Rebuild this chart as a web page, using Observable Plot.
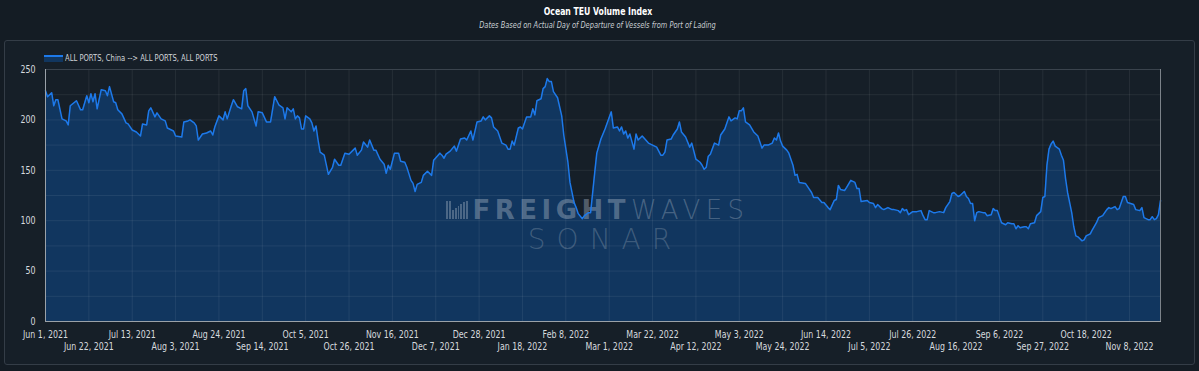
<!DOCTYPE html>
<html>
<head>
<meta charset="utf-8">
<script src="https://cdn.jsdelivr.net/npm/d3@7"></script>
<script src="https://cdn.jsdelivr.net/npm/@observablehq/plot@0.6"></script>
<style>
  html, body { margin: 0; padding: 0; background: #141c24; }
  #wrap { position: relative; width: 1199px; height: 371px; overflow: hidden; background: #141c24;
          font-family: 'Liberation Sans Narrow', 'DejaVu Sans Condensed', Roboto, sans-serif; }
  #panel { position: absolute; left: 4px; top: 40px; width: 1189px; height: 323px;
           border: 1px solid #343d47; border-radius: 3px; background: #161f28; }
  #title { position: absolute; left: 0; width: 1196px; top: 6px; text-align: center;
           font-size: 10px; line-height: 12px; font-weight: bold; color: #ffffff;
           transform: scaleX(0.86); transform-origin: 598px 0; }
  #subtitle { position: absolute; left: 0; width: 1196px; top: 20px; text-align: center;
              font-size: 8.5px; line-height: 10px; font-style: italic; color: #c9ced3;
              transform: scaleX(0.87); transform-origin: 594px 0; }
  #legend { position: absolute; left: 44px; top: 53px; height: 10px; font-size: 8.5px; line-height: 10px; color: #d0d4d8; }
  #legend .sw { position: absolute; left: 0; top: 2px; width: 19px; height: 5px; background: #11365f; border-top: 2px solid #1d79ea; }
  #legend .lb { position: absolute; left: 21px; top: 0; white-space: nowrap; transform: scaleX(0.89); transform-origin: 0 0; }
  #chart { position: absolute; left: 0; top: 0; }
  #icon { position: absolute; left: 446px; top: 201px; width: 22px; height: 18px; display: flex; align-items: flex-end; gap: 1px; opacity: 0.38; }
  #icon span { display: block; width: 2px; background: #aab6c6; }
</style>
</head>
<body>
<div id="wrap">
  <div id="panel"></div>
  <div id="title">Ocean TEU Volume Index</div>
  <div id="subtitle">Dates Based on Actual Day of Departure of Vessels from Port of Lading</div>
  <div id="legend"><div class="sw"></div><div class="lb" id="legendLabel"></div></div>
  <div id="chart"></div>
  <div id="icon"><span style="height:18px"></span><span style="height:18px"></span><span style="height:9px"></span><span style="height:11px"></span><span style="height:13px"></span><span style="height:15px"></span><span style="height:17px"></span><span style="height:18px"></span></div>
</div>
<script>
// ---- data ----
const seriesName = "ALL PORTS, China --> ALL PORTS, ALL PORTS";
const startDate = "Jun 1, 2021";
const endDate = "Nov 23, 2022";
// day offsets from Jun 1, 2021
const days = [
  0,1,3,4,5,6,8,10,11,12,15,17,18,20,21,22,23,24,25,27,29,30,31,33,34,35,37,39,40,42,44,46,47,49,50,51,53,54,56,58,59,62,63,66,67,69,70,72,73,74,76,78,80,81,82,84,86,87,88,90,91,93,95,96,97,98,100,102,103,105,
  107,109,111,113,115,116,117,119,120,121,122,123,124,125,126,128,129,130,131,132,133,135,137,139,140,142,143,145,147,150,151,153,154,156,157,159,160,162,164,165,166,167,169,171,172,174,175,177,178,179,180,182,183,185,187,188,191,192,193,194,196,198,199,201,203,204,206,207,209,211,212,213,
  215,216,217,219,221,223,224,225,226,227,229,230,231,233,235,236,237,238,240,241,242,243,244,245,246,248,250,251,253,254,256,257,258,260,261,263,264,265,266,267,269,271,274,275,277,278,279,280,281,282,283,285,286,287,289,292,294,296,298,299,300,301,303,304,306,307,308,310,312,313,315,317,318,319,320,
  321,322,324,326,327,329,331,332,334,335,336,337,338,339,341,343,345,347,348,350,352,353,354,355,356,357,359,360,362,363,364,365,368,369,371,372,374,376,377,379,380,382,383,384,385,387,388,390,392,393,394,395,398,399,401,402,403,405,406,408,410,411,413,414,415,416,417,418,420,422,
  424,425,426,427,428,430,431,433,435,436,438,439,440,442,443,445,446,447,448,449,450,451,452,454,455,456,458,459,460,461,463,465,466,468,469,470,471,472,474,475,476,477,479,480,482,483,484,485,486,487,488,489,491,492,493,494,495,497,498,499,500,502,503,504,506,507,509,510,512,514,515,516,518,519,520,522,523,524,527,528,530,531,532,534,535,536,537,538,539,540
];
const teu = [
  229,223,227,214,220,220,201,199,195,214,219,210,210,224,217,226,218,226,211,230,229,224,233,218,217,210,206,197,196,190,188,184,196,195,209,212,203,207,201,199,192,189,184,183,198,199,200,197,194,180,186,187,189,185,193,204,200,208,201,214,220,213,211,229,231,214,208,194,208,207,
  198,198,223,215,212,201,212,208,211,201,204,202,191,191,204,201,197,189,194,180,168,165,146,153,161,155,155,167,166,172,165,170,178,173,180,170,170,161,156,147,155,151,167,167,159,158,153,140,137,129,136,138,145,149,145,160,167,165,162,166,169,174,169,181,182,180,189,180,198,199,203,200,
  204,202,193,189,177,175,171,171,179,175,192,193,191,203,203,211,205,219,221,231,233,241,238,238,228,222,204,185,158,138,118,113,107,102,105,108,108,128,148,167,181,191,208,192,193,189,193,186,189,182,186,171,186,180,184,177,175,173,165,165,168,180,181,185,191,198,188,183,173,177,161,158,155,151,153,
  164,166,177,175,185,191,203,199,202,201,209,209,212,198,195,188,184,172,175,175,177,182,180,187,179,174,170,167,155,145,146,138,137,134,128,123,123,118,118,113,111,120,121,135,131,130,133,140,138,132,132,119,120,118,117,113,116,112,111,113,111,111,110,108,112,110,111,106,109,109,
  110,105,101,101,110,108,108,109,108,113,119,127,128,124,125,129,124,122,117,117,100,108,109,108,108,105,106,112,110,110,98,96,98,97,97,92,95,93,94,94,92,97,98,105,109,123,124,155,171,176,179,174,171,165,160,142,128,108,94,85,84,80,81,85,87,91,98,103,105,111,113,112,114,111,112,124,124,118,116,111,110,113,103,101,101,104,101,102,106,120
];
const xTickLabels = [
  "Jun 1, 2021","Jun 22, 2021","Jul 13, 2021","Aug 3, 2021","Aug 24, 2021","Sep 14, 2021","Oct 5, 2021",
  "Oct 26, 2021","Nov 16, 2021","Dec 7, 2021","Dec 28, 2021","Jan 18, 2022","Feb 8, 2022","Mar 1, 2022",
  "Mar 22, 2022","Apr 12, 2022","May 3, 2022","May 24, 2022","Jun 14, 2022","Jul 5, 2022","Jul 26, 2022",
  "Aug 16, 2022","Sep 6, 2022","Sep 27, 2022","Oct 18, 2022","Nov 8, 2022"
];
const yTicks = [0, 50, 100, 150, 200, 250];
const yGrid = [0, 25, 50, 75, 100, 125, 150, 175, 200, 225, 250];
const watermark = ["FREIGHT", "WAVES", "SONAR"];

// ---- build ----
const parse = d3.utcParse("%b %d, %Y");
const fmt = d3.utcFormat("%b %-d, %Y");
const t0 = parse(startDate);
const data = days.map((d, i) => ({date: d3.utcDay.offset(t0, d), value: teu[i]}));
const tickDates = xTickLabels.map(parse);
const row1 = tickDates.filter((d, i) => i % 2 === 0);
const row2 = tickDates.filter((d, i) => i % 2 === 1);

document.getElementById("legendLabel").textContent = seriesName;

const lineColor = "#1d79ea";
const fillColor = "#11365f";
const wmFill = "#aab6c6";
const wmFont = "'DejaVu Sans', sans-serif";

const chart = Plot.plot({
  width: 1199,
  height: 371,
  marginLeft: 45,
  marginRight: 39,
  marginTop: 69,
  marginBottom: 50,
  style: {background: "transparent", color: "#d6dadf",
          fontFamily: "'Liberation Sans Narrow', 'DejaVu Sans Condensed', Roboto, sans-serif", fontSize: "10.2px"},
  x: {type: "utc", domain: [t0, parse(endDate)], label: null, axis: null},
  y: {domain: [0, 250], label: null, axis: null},
  marks: [
    Plot.areaY(data, {x: "date", y: "value", fill: fillColor, curve: "linear"}),
    Plot.text([watermark[0]], {text: d => d, frameAnchor: "middle", textAnchor: "end", dx: 27, dy: 15,
      fontSize: 26, fontWeight: "bold", fontFamily: wmFont, fill: wmFill, fillOpacity: 0.42}),
    Plot.text([watermark[1]], {text: d => d, frameAnchor: "middle", textAnchor: "start", dx: 28, dy: 15,
      fontSize: 26, fontWeight: 200, fontFamily: wmFont, fill: wmFill, fillOpacity: 0.36}),
    Plot.text([watermark[2]], {text: d => d, frameAnchor: "middle", textAnchor: "middle", dx: 2, dy: 45,
      fontSize: 28, fontWeight: 200, fontFamily: wmFont, fill: wmFill, fillOpacity: 0.3}),
    Plot.gridY(yGrid, {stroke: "#ffffff", strokeOpacity: 0.07}),
    Plot.gridX(tickDates, {stroke: "#ffffff", strokeOpacity: 0.07}),
    Plot.frame({stroke: "#3a434d"}),
    Plot.lineY(data, {x: "date", y: "value", stroke: lineColor, strokeWidth: 1.5}),
    Plot.frame({anchor: "right", stroke: "#7c838a"}),
    Plot.frame({anchor: "bottom", stroke: "#9aa1a8"}),
    Plot.frame({anchor: "left", stroke: "#9aa1a8"}),
    Plot.axisY(yTicks, {tickSize: 0, tickPadding: 10, label: null}),
    Plot.axisX(row1, {tickSize: 0, tickPadding: 9, tickFormat: fmt, label: null}),
    Plot.axisX(row2, {tickSize: 0, tickPadding: 21, tickFormat: fmt, label: null})
  ]
});
document.getElementById("chart").appendChild(chart);
const svg = d3.select(chart);
const spacing = {FREIGHT: 4.5, WAVES: 5.5, SONAR: 11};
svg.selectAll("text").each(function() {
  const t = this.textContent;
  if (t in spacing) {
    this.setAttribute("letter-spacing", spacing[t]);
  } else {
    // condense axis labels around their anchor
    const x = +(this.getAttribute("x") || 0);
    const prev = this.getAttribute("transform") || "";
    this.setAttribute("transform", `${prev} translate(${x},0) scale(0.86,1) translate(${-x},0)`);
  }
});
</script>
</body>
</html>
